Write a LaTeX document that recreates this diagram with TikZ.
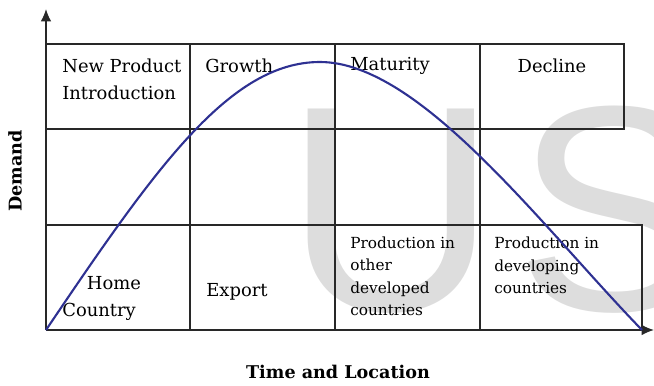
\documentclass[tikz,border=0pt]{standalone}
\usepackage{fontspec}
\setmainfont{DejaVu Serif}
\newfontfamily\markfont{Liberation Sans}
\definecolor{curveblue}{RGB}{46,49,146}
\definecolor{gridgray}{RGB}{40,40,40}
\definecolor{markgray}{RGB}{221,221,221}
\usetikzlibrary{arrows.meta, positioning}

\begin{document}
\begin{tikzpicture}[
  cell/.style={anchor=west, align=left, inner sep=0pt, font=\fontsize{10.2}{15.4}\selectfont},
  smallcell/.style={anchor=west, align=left, inner sep=0pt, font=\fontsize{8.7}{12.8}\selectfont},
  axislabel/.style={inner sep=0pt, font=\fontsize{10}{12}\selectfont\bfseries},
  gridline/.style={draw=gridgray, line width=0.7pt},
  axisline/.style={-{Latex[length=7pt, width=6pt]}, draw=gridgray, line width=0.8pt}]
\useasboundingbox (-0.92,-1.10) rectangle (12.16,6.60);

% watermark behind everything
\node[anchor=base west, inner sep=0pt, text=markgray, font=\markfont\fontsize{166.7}{166.7}\selectfont] (mark) at (4.78,0.40) {U\kern11ptS};

% stage / location grid
\draw[gridline] (0,4.02) rectangle (11.56,5.72);
\draw[gridline] (0,2.10) -- (11.92,2.10) -- (11.92,0);
\foreach \x in {2.88,5.78,8.68}
  \draw[gridline] (\x,0) -- (\x,5.72);

% axes
\coordinate (o) at (0,0);
\coordinate (ytip) at (0,6.42);
\coordinate (xtip) at (12.16,0);
\coordinate (peak) at (5.48,5.36);
\coordinate (cend) at (11.92,0);
\draw[axisline] (o) -- (ytip);
\draw[axisline] (o) -- (xtip);

\node[axislabel, rotate=90] (ylabel) at (-0.62,3.18) {Demand};
\node[axislabel] (xlabel) at (5.84,-0.84) {Time and Location};

% stage labels
\node[cell] (intro) at (0.32,5.01) {New Product\\Introduction};
\node[cell] (growth) at (3.18,5.28) {Growth};
\node[cell] (maturity) at (6.08,5.28) {Maturity};
\node[cell, anchor=center] (decline) at (10.12,5.28) {Decline};

% location labels
\node[cell] (home) at (0.32,0.64) {\hspace*{14pt}Home\\Country};
\node[cell] (export) at (3.20,0.76) {Export};
\node[smallcell] (developed) at (6.08,1.07) {Production in\\other\\developed\\countries};
\node[smallcell] (developing) at (8.96,1.29) {Production in\\developing\\countries};

% demand curve
\draw[curveblue, line width=1.2pt] (o) .. controls (2.20,3.26) and (3.68,5.36) .. (peak)
  .. controls (7.48,5.36) and (9.92,2.06) .. (cend);
\end{tikzpicture}
\end{document}
